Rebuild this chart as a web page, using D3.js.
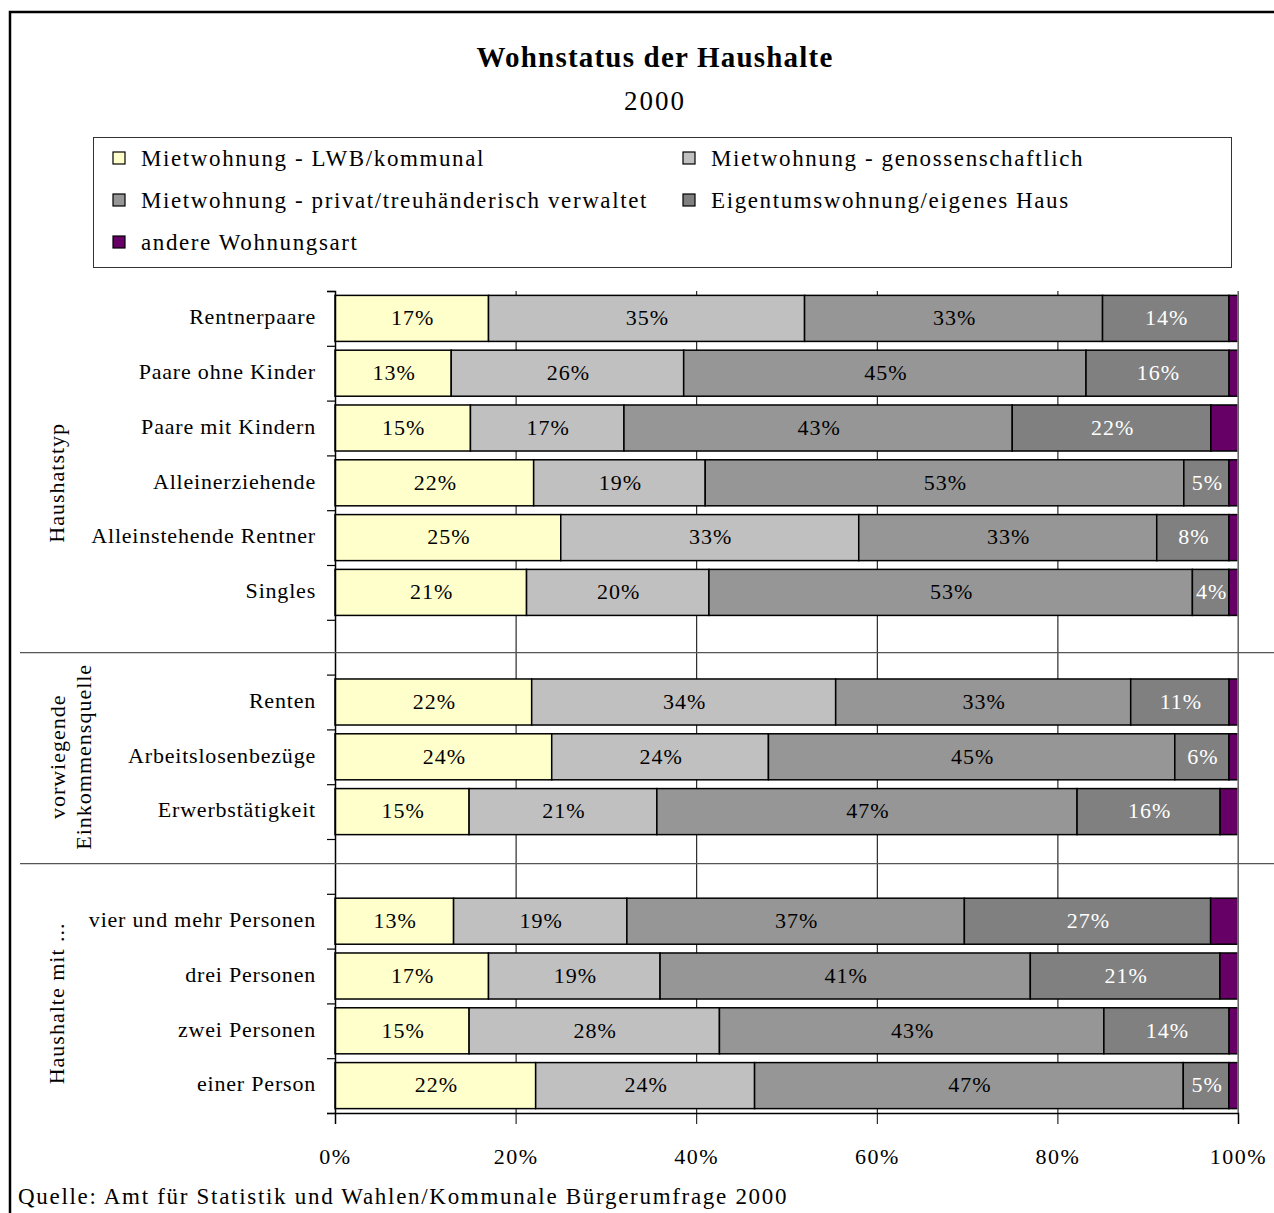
<!DOCTYPE html>
<html>
<head>
<meta charset="utf-8">
<script src="https://cdn.jsdelivr.net/npm/d3@7"></script>
<style>
  body { margin: 0; background: white; }
  text { font-family: "Liberation Serif", "Times New Roman", serif; fill: black; }
</style>
</head>
<body>
<svg id="chart" width="1274" height="1213"></svg>
<script>
// rows of the chart, blank strings are the empty spacer rows
const categories = ["Rentnerpaare", "Paare ohne Kinder", "Paare mit Kindern", "Alleinerziehende",
   "Alleinstehende Rentner", "Singles", "", "Renten", "Arbeitslosenbezüge", "Erwerbstätigkeit", "",
   "vier und mehr Personen", "drei Personen", "zwei Personen", "einer Person"];

const seriesNames = ["Mietwohnung - LWB/kommunal", "Mietwohnung - genossenschaftlich",
   "Mietwohnung - privat/treuhänderisch verwaltet", "Eigentumswohnung/eigenes Haus", "andere Wohnungsart"];

const lwb        = [17, 13, 15, 22, 25, 21, 0, 22, 24, 15, 0, 13, 17, 15, 22];
const genossen   = [35, 26, 17, 19, 33, 20, 0, 34, 24, 21, 0, 19, 19, 28, 24];
const privat     = [33, 45, 43, 53, 33, 53, 0, 33, 45, 47, 0, 37, 41, 43, 47];
const eigentum   = [14, 16, 22, 5, 8, 4, 0, 11, 6, 16, 0, 27, 21, 14, 5];
const andere     = [1, 1, 3, 1, 1, 1, 0, 1, 1, 2, 0, 3, 2, 1, 1];

const groups = [["Haushatstyp"], ["vorwiegende", "Einkommensquelle"], ["Haushalte mit ..."]];
const groupRows = [[0, 7], [7, 10], [11, 15]];

const xTicks = [0, 0.2, 0.4, 0.6, 0.8, 1];

const colors = ["#FFFFCC", "#C0C0C0", "#969696", "#808080", "#660066"];
const labelColors = ["black", "black", "black", "white", null];

const svg = d3.select("#chart");

// outer frame, right and bottom edges run off the picture
svg.append("rect")
   .attr("x", 10).attr("y", 12)
   .attr("width", 1300).attr("height", 1250)
   .attr("fill", "none").attr("stroke", "black").attr("stroke-width", 2.5);

svg.append("text")
   .attr("x", 655).attr("y", 67)
   .attr("text-anchor", "middle")
   .style("font-size", "29px").style("font-weight", "bold")
   .style("letter-spacing", "1.2px")
   .text("Wohnstatus der Haushalte");

svg.append("text")
   .attr("x", 655).attr("y", 110)
   .attr("text-anchor", "middle")
   .style("font-size", "27px")
   .style("letter-spacing", "2px")
   .text("2000");

// legend
const legend = svg.append("g");
legend.append("rect")
   .attr("x", 93.5).attr("y", 137.5).attr("width", 1138).attr("height", 130)
   .attr("fill", "white").attr("stroke", "#333").attr("stroke-width", 1);

seriesNames.forEach((name, i) => {
   var col = i % 2, row = Math.floor(i / 2);
   var lx = col == 0 ? 113 : 683;
   var ly = 158 + row * 42;
   legend.append("rect")
      .attr("x", lx).attr("y", ly - 6).attr("width", 12).attr("height", 12)
      .attr("fill", colors[i]).attr("stroke", "black").attr("stroke-width", 1.2);
   legend.append("text")
      .attr("x", lx + 28).attr("y", ly)
      .attr("dy", "0.35em")
      .style("font-size", "23px")
      .style("letter-spacing", "1.6px")
      .text(name);
});

// plot area
const plotL = 335, plotR = 1238, plotT = 291, plotB = 1113;

const x = d3.scaleLinear().domain([0, 1]).range([plotL, plotR]);
const y = d3.scaleBand()
   .domain(d3.range(categories.length))
   .range([plotT, plotB])
   .paddingInner(0.16)
   .paddingOuter(0.08);
const yIdx = d3.scaleLinear().domain([0, categories.length]).range([plotT, plotB]);

// vertical gridlines
svg.append("g")
   .attr("transform", `translate(0,${plotB})`)
   .call(d3.axisBottom(x).tickValues(xTicks).tickSize(-(plotB - plotT)).tickFormat(""))
   .call(g => g.select(".domain").remove())
   .call(g => g.selectAll("line").attr("stroke", "black").attr("stroke-width", 1));

const table = categories.map((c, i) => ({
   idx: i, name: c,
   s0: lwb[i], s1: genossen[i], s2: privat[i], s3: eigentum[i], s4: andere[i]
})).filter(d => d.name != "");

const keys = ["s0", "s1", "s2", "s3", "s4"];
const stacked = d3.stack().keys(keys).offset(d3.stackOffsetExpand)(table);

const layers = svg.append("g").selectAll("g")
   .data(stacked)
   .join("g")
   .attr("fill", (d, i) => colors[i]);

layers.selectAll("rect")
   .data(d => d)
   .join("rect")
   .attr("x", d => x(d[0]))
   .attr("y", d => y(d.data.idx))
   .attr("width", d => x(d[1]) - x(d[0]))
   .attr("height", y.bandwidth())
   .attr("stroke", "black")
   .attr("stroke-width", 1.5);

// value labels
stacked.forEach((layer, i) => {
   if (!labelColors[i]) return;
   svg.append("g").selectAll("text")
      .data(layer)
      .join("text")
      .attr("x", d => x((d[0] + d[1]) / 2) + 1)
      .attr("y", d => y(d.data.idx) + y.bandwidth() / 2 - 1)
      .attr("dy", "0.35em")
      .attr("text-anchor", "middle")
      .style("font-size", "22px")
      .style("letter-spacing", "1px")
      .style("fill", labelColors[i])
      .text(d => d.data[keys[i]] + "%");
});

// right plot edge
svg.append("line")
   .attr("x1", plotR).attr("x2", plotR).attr("y1", plotT).attr("y2", plotB)
   .attr("stroke", "#888").attr("stroke-width", 1.5);

// left axis: tick marks sit on band borders
svg.append("g")
   .attr("transform", `translate(${plotL},0)`)
   .call(d3.axisLeft(yIdx).ticks(categories.length).tickSize(8).tickFormat(""))
   .call(g => g.select(".domain").attr("stroke-width", 1.5))
   .call(g => g.selectAll(".tick line").attr("stroke-width", 1.2));

svg.append("g").selectAll("text")
   .data(categories.map((c, i) => ({ name: c, idx: i })).filter(d => d.name != ""))
   .join("text")
   .attr("x", 316)
   .attr("y", d => y(d.idx) + y.bandwidth() / 2 - 2)
   .attr("dy", "0.35em")
   .attr("text-anchor", "end")
   .style("font-size", "22px")
   .style("letter-spacing", "0.8px")
   .text(d => d.name);

// bottom axis
svg.append("g")
   .attr("transform", `translate(0,${plotB})`)
   .call(d3.axisBottom(x).tickValues(xTicks).tickSize(11).tickPadding(24).tickFormat(d3.format(".0%")))
   .call(g => g.select(".domain").attr("stroke-width", 1.5))
   .call(g => g.selectAll("text").style("font-size", "22px").attr("fill", "black")
      .style("letter-spacing", "1.5px")
      .style("font-family", "Liberation Serif"));

// group separators
[6.6, 10.45].forEach(v => {
   svg.append("line")
      .attr("x1", 20).attr("x2", 1274)
      .attr("y1", yIdx(v)).attr("y2", yIdx(v))
      .attr("stroke", "#555").attr("stroke-width", 1.2);
});

// group titles, rotated
groups.forEach((lines, gi) => {
   var cy = yIdx((groupRows[gi][0] + groupRows[gi][1]) / 2);
   var t = svg.append("text")
      .attr("transform", `translate(${lines.length > 1 ? 70 : 56},${cy}) rotate(-90)`)
      .attr("text-anchor", "middle")
      .style("font-size", "22px")
      .style("letter-spacing", "1px");
   lines.forEach((ln, k) => {
      t.append("tspan")
         .attr("x", 0)
         .attr("dy", k == 0 ? (0.35 - (lines.length - 1) * 0.6) + "em" : "1.2em")
         .text(ln);
   });
});

svg.append("text")
   .attr("x", 18).attr("y", 1196)
   .attr("dy", "0.35em")
   .style("font-size", "23px")
   .style("letter-spacing", "1.7px")
   .text("Quelle: Amt für Statistik und Wahlen/Kommunale Bürgerumfrage 2000");
</script>
</body>
</html>
